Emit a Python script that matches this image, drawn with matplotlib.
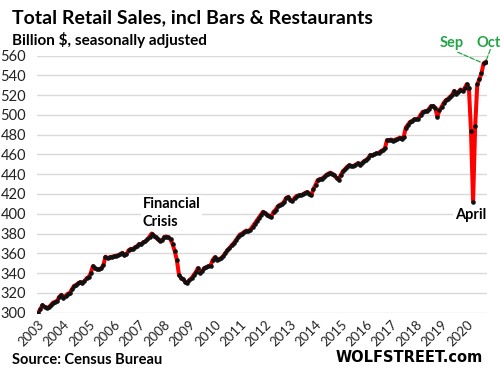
import matplotlib
matplotlib.use("Agg")
import matplotlib.pyplot as plt

# Monthly retail sales, billion $, Jan 2003 .. Oct 2020
sales = [
    # 2003
    300.0, 303.5, 307.7, 306.0, 305.0, 305.4, 307.7, 310.0, 311.0, 312.0, 316.0, 318.0,
    # 2004
    314.5, 317.0, 319.0, 320.0, 323.6, 327.0, 328.0, 329.5, 331.0, 329.6, 332.0, 334.7,
    # 2005
    336.0, 340.0, 347.0, 344.8, 343.8, 344.0, 344.8, 348.0, 356.6, 355.0, 356.0, 356.5,
    # 2006
    357.0, 357.5, 358.0, 359.0, 360.5, 358.0, 359.0, 363.0, 364.5, 364.0, 366.0, 367.0,
    # 2007
    369.5, 369.0, 371.0, 372.0, 374.0, 377.0, 380.0, 378.0, 376.0, 374.0, 372.5, 373.0,
    # 2008
    376.5, 377.0, 376.0, 374.0, 369.0, 362.0, 353.0, 338.0, 335.0, 334.0, 331.0, 330.0,
    # 2009
    333.0, 335.0, 338.0, 341.0, 345.0, 340.0, 342.0, 345.0, 346.0, 347.0, 347.5, 353.0,
    # 2010
    356.0, 353.5, 354.0, 355.0, 357.0, 360.0, 363.0, 365.0, 368.0, 370.0, 373.0, 376.0,
    # 2011
    379.0, 380.0, 381.5, 383.0, 382.5, 384.0, 387.0, 390.0, 393.0, 396.0, 399.0, 402.0,
    # 2012
    400.5, 399.0, 398.0, 397.0, 402.0, 404.0, 407.5, 409.0, 410.0, 412.0, 416.0, 417.0,
    # 2013
    414.0, 413.0, 416.0, 418.0, 418.5, 419.0, 419.5, 421.0, 422.0, 420.0, 419.0, 425.0,
    # 2014
    429.0, 434.0, 435.0, 435.5, 437.0, 439.0, 440.5, 441.5, 440.5, 439.0, 436.0, 434.5,
    # 2015
    439.0, 443.0, 445.0, 447.5, 449.0, 448.5, 448.0, 449.5, 451.0, 449.5, 451.0, 453.0,
    # 2016
    454.3, 456.0, 459.3, 459.0, 460.0, 461.0, 461.5, 463.0, 464.3, 466.0, 474.4, 474.5,
    # 2017
    475.0, 474.0, 475.0, 475.5, 477.0, 476.0, 478.0, 487.2, 490.0, 492.9, 494.0, 495.3,
    # 2018
    495.5, 496.3, 500.0, 503.0, 503.5, 503.7, 506.0, 508.8, 509.0, 507.0, 498.0, 504.7,
    # 2019
    508.0, 512.0, 514.8, 516.0, 518.2, 520.0, 524.2, 521.5, 523.0, 525.6, 524.0, 527.0,
    # 2020
    531.0, 527.6, 484.0, 412.0, 488.7, 530.7, 536.0, 542.0, 552.0, 553.5,
]
years = list(range(2003, 2021))
y_ticks = list(range(300, 561, 20))

FONT = ["Lato", "DejaVu Sans"]
plt.rcParams["font.family"] = FONT

fig = plt.figure(figsize=(5.02, 3.74), dpi=100)
ax = fig.add_axes([0.0737, 0.164, 0.8963, 0.6876])

months = list(range(len(sales)))
ax.plot(months, sales, "-", color="#ff0000", linewidth=2.9, zorder=3)
ax.plot(months, sales, "o", color="#111111", markersize=2.3, zorder=4)

ax.set_xlim(-0.6, len(sales) - 0.4)
ax.set_ylim(300, 560)
ax.set_yticks(y_ticks)
ax.grid(True, axis="y", color="#d9d9d9", linewidth=1.0)
ax.set_axisbelow(True)
for s in ax.spines.values():
    s.set_visible(False)

ax.set_xticks([12 * i for i in range(len(years))])
ax.set_xticklabels([str(y) for y in years], rotation=45, ha="right", va="top",
                   rotation_mode="anchor", fontsize=9.5, color="#222222")
ax.tick_params(axis="both", length=0)
ax.tick_params(axis="x", pad=4)
ax.tick_params(axis="y", labelsize=10.5, labelcolor="#222222", pad=8)

# titles
fig.text(0.024, 0.953, "Total Retail Sales, incl Bars & Restaurants", fontsize=14,
         fontweight="bold", va="center", ha="left")
fig.text(0.024, 0.893, "Billion $, seasonally adjusted", fontsize=11,
         fontweight="bold", va="center", ha="left")
fig.text(0.024, 0.037, "Source: Census Bureau", fontsize=10.5,
         fontweight="bold", va="center", ha="left")
fig.text(0.962, 0.043, "WOLFSTREET.com", fontsize=10.5, fontweight="bold",
         family="DejaVu Sans", va="center", ha="right")

# annotations
box = dict(facecolor="white", edgecolor="none", pad=1.5)
ax.text(49.7, 400.5, "Financial\nCrisis", fontsize=10.5, fontweight="bold",
        ha="left", va="center", linespacing=1.35, bbox=box, zorder=5)
ax.text(206, 398.7, "April", fontsize=10.5, fontweight="bold",
        ha="center", va="center", bbox=box, zorder=5)

green = "#21a544"
ax.text(197, 572.4, "Sep", fontsize=10.5, fontweight="bold", color=green,
        ha="center", va="center", clip_on=False)
ax.text(214.4, 572.4, "Oct", fontsize=10.5, fontweight="bold", color=green,
        ha="center", va="center", clip_on=False)
leader = dict(arrowstyle="-", color=green, linestyle="--", linewidth=0.9,
              shrinkA=0, shrinkB=2)
ax.annotate("", xy=(212, sales[212]), xytext=(199.7, 563.3),
            arrowprops=leader, annotation_clip=False)
ax.annotate("", xy=(213, sales[213]), xytext=(215.2, 566.0),
            arrowprops=leader, annotation_clip=False)

fig.savefig("out.png", dpi=100)
